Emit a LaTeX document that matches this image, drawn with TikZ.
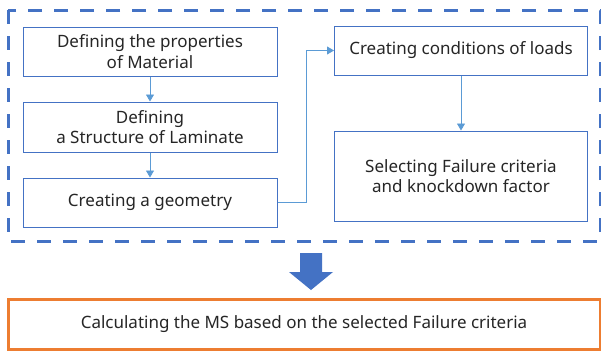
\documentclass[tikz,border=0pt]{standalone}
\usepackage{fontspec}
\setmainfont{Noto Sans}
\usepackage{tikz}
\usetikzlibrary{arrows.meta}

\definecolor{boxblue}{HTML}{4472C4}
\definecolor{linkblue}{HTML}{5B9BD5}
\definecolor{msorange}{HTML}{ED7D31}

\tikzset{
  stepbox/.style={draw=boxblue,line width=1pt,fill=white,align=center,
    font=\fontsize{17}{20.5}\selectfont,text=black!85},
  link/.style={draw=linkblue,line width=0.8pt,-{Triangle[length=7pt,width=8pt]}}
}

\begin{document}
\begin{tikzpicture}[x=1pt,y=-1pt]
    \useasboundingbox (0,0) rectangle (601,351);
    \fill [white] (0,0) rectangle (601,351);
    % frame round the preparation steps
    \draw [boxblue,line width=3pt,dash pattern=on 14pt off 12pt] (8,10) rectangle (600,241);
    % left column
    \node [stepbox,minimum width=254pt,minimum height=49pt] (material) at (150,51.5) {Defining the properties\\of Material};
    \node [stepbox,minimum width=254pt,minimum height=50pt] (laminate) at (150,127) {Defining\\a Structure of Laminate};
    \node [stepbox,minimum width=254pt,minimum height=49pt] (geometry) at (150,202.5) {Creating a geometry};
    % right column
    \node [stepbox,minimum width=253pt,minimum height=49pt] (loads) at (461,50.5) {Creating conditions of loads};
    \node [stepbox,minimum width=253pt,minimum height=90pt] (criteria) at (461,176) {Selecting Failure criteria\\and knockdown factor};
    \draw [link] (material) -- (laminate);
    \draw [link] (laminate) -- (geometry);
    \draw [link] (geometry.east) -- ++(29,0) |- (loads.west);
    \draw [link] (loads) -- (criteria);
    % big arrow down
    \fill [boxblue] (300,253) -- (322,253) -- (322,272) -- (333,272) -- (311,290)
      -- (289,272) -- (300,272) -- cycle;
    \node [draw=msorange,line width=3pt,fill=white,minimum width=592pt,minimum height=50pt,
      font=\fontsize{17}{20.5}\selectfont,text=black!85] (ms) at (304,324)
      {Calculating the MS based on the selected Failure criteria};
  \end{tikzpicture}
\end{document}
